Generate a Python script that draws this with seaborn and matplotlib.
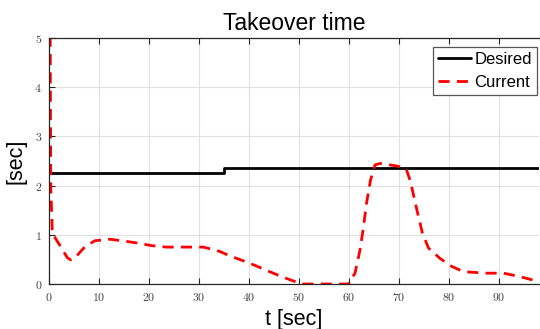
import numpy as np
import pandas as pd
import matplotlib
matplotlib.use("Agg")
import matplotlib.pyplot as plt
import seaborn as sns

# Data
desired_t = [0, 35, 35, 98]
desired_v = [2.25, 2.25, 2.35, 2.35]

current_t = [0.2, 0.35, 0.67, 2.2, 3.7, 4.4, 5.1, 7.2, 9.2, 12.2, 15.2, 17.9, 20.5, 23.5,
             26.2, 30.9, 34.2, 36.2, 38.9, 41.4, 43.9, 46.5, 49.2, 50.5, 59.9,
             61.2, 62.2, 62.9, 63.5, 64.3, 65.2, 66.2, 69.5, 71.4, 72.3, 73.5, 74.7, 75.9,
             78.2, 80.5, 82.9, 87.5, 90.9, 94.2, 97.9, 98.5]
current_v = [6.0, 2.0, 1.03, 0.78, 0.53, 0.49, 0.52, 0.76, 0.88, 0.91, 0.87, 0.83, 0.78, 0.75,
             0.75, 0.75, 0.66, 0.57, 0.47, 0.37, 0.26, 0.15, 0.05, 0.0, 0.0,
             0.22, 0.69, 1.16, 1.64, 2.11, 2.42, 2.45, 2.40, 2.35, 2.08, 1.54, 1.03, 0.73,
             0.52, 0.36, 0.25, 0.22, 0.22, 0.15, 0.05, 0.03]

xticks = [0, 10, 20, 30, 40, 50, 60, 70, 80, 90]
yticks = [0, 1, 2, 3, 4, 5]

sns.set_theme(style="white")
plt.rcParams['font.family'] = ['Liberation Sans', 'DejaVu Sans']
plt.rcParams['axes.formatter.use_mathtext'] = True
plt.rcParams['text.color'] = 'black'
plt.rcParams['axes.labelcolor'] = 'black'

fig = plt.figure(figsize=(5.4, 3.29), dpi=100)
ax = fig.add_axes([49/540, 1-284/329, 490/540, 246/329])

df_d = pd.DataFrame({"t": desired_t, "v": desired_v})
df_c = pd.DataFrame({"t": current_t, "v": current_v})

sns.lineplot(data=df_d, x="t", y="v", ax=ax, color="black", lw=2.0, label="Desired",
             estimator=None, sort=False)
sns.lineplot(data=df_c, x="t", y="v", ax=ax, color="red", lw=2.0, label="Current",
             estimator=None, sort=False, linestyle=(0, (4.0, 2.6)))

ax.set_xlim(0, 98)
ax.set_ylim(0, 5)
ax.set_xticks(xticks)
ax.set_yticks(yticks)
ax.grid(True, color="#e0e0e0", lw=0.8)
ax.tick_params(direction="in", length=4, width=0.8, color="#262626", top=True, right=False,
               left=True, bottom=True, labelsize=8.5, pad=5)
for lab in ax.get_xticklabels() + ax.get_yticklabels():
    lab.set_fontfamily("cmr10")
    lab.set_color("#404040")
for s in ax.spines.values():
    s.set_color("#262626")
    s.set_linewidth(0.9)
ax.spines['right'].set_visible(False)

ax.set_title("Takeover time", fontsize=16.5, pad=6, color="black")
ax.set_xlabel("t [sec]", fontsize=15.5, labelpad=4)
ax.set_ylabel("[sec]", fontsize=15.5, labelpad=6)

leg = ax.legend(loc="upper right", bbox_to_anchor=(0.9959, 0.9634), fontsize=12,
                frameon=True, fancybox=False, edgecolor="#555555", framealpha=1,
                borderpad=0.3, handlelength=2.0, handletextpad=0.2, labelspacing=0.45,
                borderaxespad=0)
leg.get_frame().set_linewidth(0.9)
for txt in leg.get_texts():
    txt.set_color("black")

fig.savefig("out.png", dpi=100)
